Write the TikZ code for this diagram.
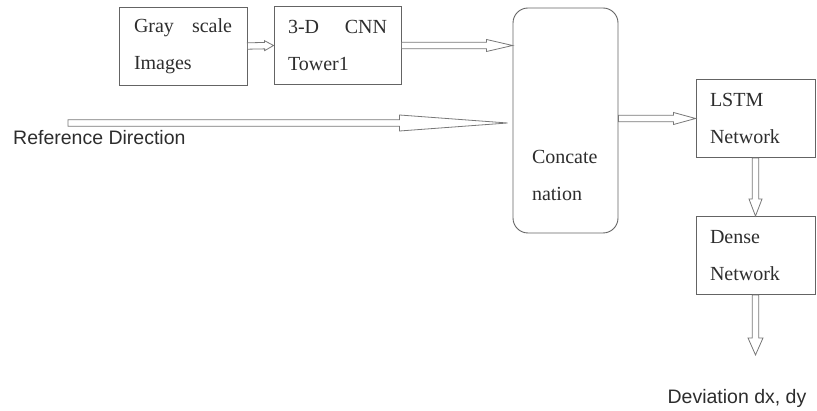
\documentclass[tikz,border=0pt]{standalone}
\usepackage{fontspec}
\setmainfont{Liberation Serif}
\newfontfamily\labelsans{Liberation Sans}
\usepackage{xcolor}
\usepackage{tikz}
\usetikzlibrary{positioning, calc}
\definecolor{LineGray}{RGB}{100, 100, 100}
\definecolor{ArrowGray}{RGB}{120, 120, 120}
\definecolor{TextGray}{RGB}{45, 45, 45}

% hollow block arrow: start, end, head length, head half width
\newcommand{\hollowarrow}[4]{%
  \coordinate (ha-s) at (#1);
  \coordinate (ha-e) at (#2);
  \coordinate (ha-h) at ($(ha-e)!#3!(ha-s)$);
  \draw[arrowline]
    ($(ha-s)!3.2pt!90:(ha-e)$) -- ($(ha-h)!3.2pt!90:(ha-e)$) -- ($(ha-h)!#4!90:(ha-e)$)
    -- (ha-e) -- ($(ha-h)!#4!-90:(ha-e)$) -- ($(ha-h)!3.2pt!-90:(ha-e)$)
    -- ($(ha-s)!3.2pt!-90:(ha-e)$) -- cycle;
}

\begin{document}
\begin{tikzpicture}[
    x=1pt, y=-1pt,
    blk/.style={
      draw=LineGray,
      line width=0.9pt,
      text=TextGray,
      font=\fontsize{20}{37}\selectfont,
      align=left,
      inner xsep=14pt,
      inner ysep=0pt,
      minimum height=78pt
    },
    arrowline/.style={draw=ArrowGray, line width=0.8pt, line join=miter},
    sanslbl/.style={text=TextGray, font=\labelsans\fontsize{19.5}{24}\selectfont, inner sep=0pt}
  ]
  \useasboundingbox (0,0) rectangle (817,411);

  \node[blk, text width=98pt, inner xsep=15pt] (gray) at (183,46) {Gray\hfill scale\\Images};
  \node[blk, text width=99pt] (cnn) at (337.5,45.5) {3-D\hfill CNN\\Tower1};
  \node[blk, rounded corners=15pt, minimum width=105pt, minimum height=225pt, inner sep=0pt] (concat) at (565.5,120.5) {};
  \node[blk, draw=none, anchor=west, inner sep=0pt, minimum height=0pt] (concatlbl) at ($(concat.west)+(19,55)$) {Concate\\nation};
  \node[blk, text width=91pt] (lstm) at (755.5,118.5) {LSTM\\Network};
  \node[blk, text width=91pt] (dense) at (755.5,255.5) {Dense\\Network};

  \node[sanslbl, anchor=west] (refdir) at (13,138) {Reference Direction};
  \node[sanslbl] (dev) at (737,398) {Deviation dx, dy};
  \coordinate (refstart) at (68,123);
  \coordinate (devtip) at ($(dense.south)+(0,60)$);

  \hollowarrow{gray.east}{cnn.west}{9pt}{5pt}
  \hollowarrow{cnn.east}{concat.west |- cnn.east}{26pt}{6pt}
  \hollowarrow{refstart}{$(concat.west |- refstart)+(-5,0)$}{108pt}{8pt}
  \hollowarrow{concat.east |- lstm.west}{lstm.west}{22pt}{6pt}
  \hollowarrow{lstm.south}{dense.north}{17pt}{6.5pt}
  \hollowarrow{dense.south}{devtip}{17pt}{7.5pt}
\end{tikzpicture}
\end{document}
